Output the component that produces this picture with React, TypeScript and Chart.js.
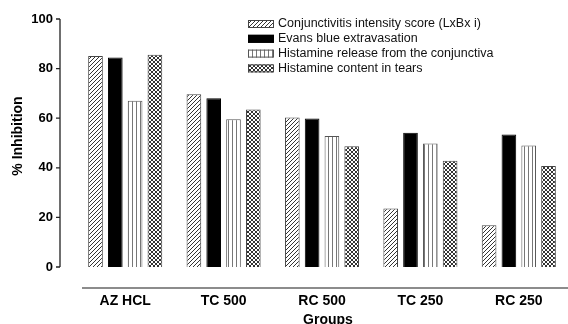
import { useEffect, useRef } from "react";
import { Chart, registerables } from "chart.js";
Chart.register(...registerables);

const categories = ["AZ HCL", "TC 500", "RC 500", "TC 250", "RC 250"];
const seriesNames = [
  "Conjunctivitis intensity score (LxBx i)",
  "Evans blue extravasation",
  "Histamine release from the conjunctiva",
  "Histamine content in tears",
];
const conjunctivitis = [85.1, 69.7, 60.3, 23.6, 16.8];
const evansBlue = [84.5, 68.0, 59.9, 54.1, 53.4];
const histamineRelease = [67.0, 59.6, 52.8, 49.8, 49.0];
const histamineTears = [85.6, 63.5, 48.7, 42.8, 40.7];
const yTicks = [0, 20, 40, 60, 80, 100];
const yTitle = "% Inhibition";
const xTitle = "Groups";

function makePattern(kind: string): CanvasPattern | string {
  const c = document.createElement("canvas");
  const s = 4;
  c.width = s;
  c.height = s;
  const g = c.getContext("2d")!;
  g.fillStyle = "#ffffff";
  g.fillRect(0, 0, s, s);
  g.strokeStyle = "#333";
  g.lineWidth = 1;
  if (kind === "diag") {
    g.beginPath();
    g.moveTo(0, s);
    g.lineTo(s, 0);
    g.moveTo(-1, 1);
    g.lineTo(1, -1);
    g.moveTo(s - 1, s + 1);
    g.lineTo(s + 1, s - 1);
    g.stroke();
  } else if (kind === "vert") {
    g.strokeStyle = "#777";
    g.beginPath();
    g.moveTo(0.5, 0);
    g.lineTo(0.5, s);
    g.stroke();
  } else if (kind === "cross") {
    g.strokeStyle = "#333";
    g.beginPath();
    g.moveTo(0, s);
    g.lineTo(s, 0);
    g.moveTo(0, 0);
    g.lineTo(s, s);
    g.stroke();
  }
  const p = g.createPattern(c, "repeat");
  return p || "#888";
}

export default function App() {
  const ref = useRef<HTMLCanvasElement | null>(null);
  useEffect(() => {
    document.body.style.margin = "0";
    const canvas = ref.current!;
    const fills = [makePattern("diag"), "#000000", makePattern("vert"), makePattern("cross")];
    const borders = ["#444", "#000", "#555", "#444"];
    const values = [conjunctivitis, evansBlue, histamineRelease, histamineTears];

    const customPlugin = {
      id: "customAxes",
      afterDraw(chart: any) {
        const ctx = chart.ctx as CanvasRenderingContext2D;
        const ys = chart.scales.y;
        const area = chart.chartArea;
        ctx.save();
        // y axis
        const axX = area.left - 16;
        ctx.strokeStyle = "#222";
        ctx.lineWidth = 1.3;
        ctx.beginPath();
        ctx.moveTo(axX, ys.getPixelForValue(yTicks[yTicks.length - 1]));
        ctx.lineTo(axX, ys.getPixelForValue(yTicks[0]));
        yTicks.forEach((v) => {
          const py = ys.getPixelForValue(v);
          ctx.moveTo(axX - 4, py);
          ctx.lineTo(axX, py);
        });
        ctx.stroke();
        // x axis line
        const axY = area.bottom + 21;
        ctx.strokeStyle = "#666";
        ctx.lineWidth = 1.5;
        ctx.beginPath();
        ctx.moveTo(area.left + 6, axY);
        ctx.lineTo(area.right, axY);
        ctx.stroke();
        // titles
        ctx.fillStyle = "#000";
        ctx.font = "bold 14px Arial, 'Liberation Sans', sans-serif";
        ctx.textAlign = "center";
        ctx.textBaseline = "alphabetic";
        ctx.fillText(xTitle, 328, 323.5);
        ctx.save();
        ctx.translate(22, 136);
        ctx.rotate(-Math.PI / 2);
        ctx.fillText(yTitle, 0, 0);
        ctx.restore();
        // legend
        ctx.font = "12.5px Arial, 'Liberation Sans', sans-serif";
        ctx.textAlign = "left";
        ctx.textBaseline = "middle";
        seriesNames.forEach((name, i) => {
          const cy = 24 + i * 14.8;
          ctx.fillStyle = fills[i] as any;
          ctx.fillRect(248, cy - 4, 26, 8);
          ctx.strokeStyle = borders[i];
          ctx.lineWidth = 1;
          ctx.strokeRect(248.5, cy - 3.5, 25, 7);
          ctx.fillStyle = "#111";
          ctx.fillText(name, 278, cy);
        });
        ctx.restore();
      },
    };

    const chart = new Chart(canvas, {
      type: "bar",
      data: {
        labels: categories,
        datasets: values.map((v, i) => ({
          label: seriesNames[i],
          data: v,
          backgroundColor: fills[i] as any,
          borderColor: borders[i],
          borderWidth: 1,
          categoryPercentage: 0.805,
          barPercentage: 0.74,
        })),
      },
      options: {
        responsive: false,
        animation: false,
        events: [],
        layout: { padding: { top: 19, right: 0, bottom: 0, left: 0 } },
        plugins: { legend: { display: false }, tooltip: { enabled: false } },
        scales: {
          x: {
            offset: true,
            grid: { display: false, drawTicks: false },
            border: { display: false },
            ticks: {
              color: "#000",
              padding: 26,
              font: { family: "Arial, 'Liberation Sans', sans-serif", size: 14, weight: "bold" },
            },
            afterFit(scale: any) {
              scale.height = 57;
              scale.paddingLeft = 0;
              scale.paddingRight = 0;
            },
          },
          y: {
            min: 0,
            max: 100,
            grid: { display: false, drawTicks: false },
            border: { display: false },
            ticks: {
              stepSize: 20,
              color: "#000",
              padding: 23,
              font: { family: "Arial, 'Liberation Sans', sans-serif", size: 13, weight: "bold" },
            },
            afterFit(scale: any) {
              scale.width = 76;
              scale.paddingTop = 0;
              scale.paddingBottom = 0;
            },
          },
        },
      },
      plugins: [customPlugin],
    });
    return () => chart.destroy();
  }, []);
  return <canvas ref={ref} width={568} height={324} style={{ display: "block" }} />;
}
